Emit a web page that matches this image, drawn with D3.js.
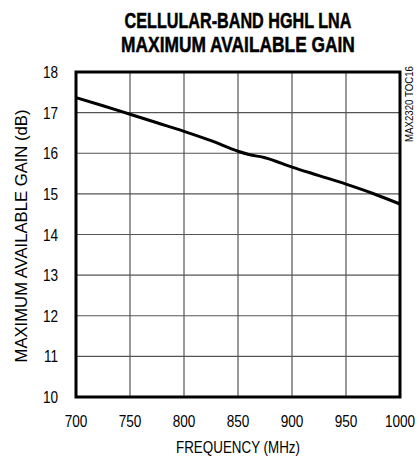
<!DOCTYPE html>
<html>
<head>
<meta charset="utf-8">
<script src="https://cdn.jsdelivr.net/npm/d3@7"></script>
<style>
  body { margin: 0; background: #fff; }
  text { font-family: "Liberation Sans", Arial, sans-serif; }
</style>
</head>
<body>
<div id="plot"></div>
<script>
var width = 419;
var height = 456;
var margin = {top: 72, right: 19, bottom: 59, left: 76};
var squeeze = 0.8; // fake a narrow font

// data
var freq = [700, 725, 750, 775, 800, 825, 850, 860, 875, 900, 925, 950, 975, 1000];
var gain = [17.37, 17.17, 16.96, 16.75, 16.54, 16.31, 16.05, 15.97, 15.89, 15.66, 15.45, 15.24, 15.01, 14.75];
var xTicks = [700, 750, 800, 850, 900, 950, 1000];
var yTicks = [10, 11, 12, 13, 14, 15, 16, 17, 18];

var svg = d3.select("#plot")
    .append("svg")
    .attr("width", width)
    .attr("height", height);

var x = d3.scaleLinear().domain([700, 1000]).range([margin.left, width - margin.right]);
var y = d3.scaleLinear().domain([10, 18]).range([height - margin.bottom, margin.top]);

// squeeze a text horizontally so it spans w pixels
function fitWidth(sel, w, place) {
    sel.each(function() {
        var len = this.getComputedTextLength();
        d3.select(this).attr("transform", place + " scale(" + (w / len) + ",1)");
    });
}

// grid
svg.append("g")
    .selectAll("line")
    .data(xTicks.slice(1, -1))
    .enter()
    .append("line")
    .attr("x1", d => x(d)).attr("x2", d => x(d))
    .attr("y1", y(10)).attr("y2", y(18))
    .attr("stroke", "#555").attr("stroke-width", 1.2);

svg.append("g")
    .selectAll("line")
    .data(yTicks.slice(1, -1))
    .enter()
    .append("line")
    .attr("x1", x(700)).attr("x2", x(1000))
    .attr("y1", d => y(d)).attr("y2", d => y(d))
    .attr("stroke", "#555").attr("stroke-width", 1.2);

// curve
var line = d3.line()
    .x((d, i) => x(freq[i]))
    .y(d => y(d))
    .curve(d3.curveMonotoneX);

svg.append("path")
    .datum(gain)
    .attr("d", line)
    .attr("fill", "none")
    .attr("stroke", "#000")
    .attr("stroke-width", 3);

// frame
svg.append("rect")
    .attr("x", x(700)).attr("y", y(18))
    .attr("width", x(1000) - x(700))
    .attr("height", y(10) - y(18))
    .attr("fill", "none")
    .attr("stroke", "#000")
    .attr("stroke-width", 3);

// tick labels
svg.append("g")
    .selectAll("text")
    .data(xTicks)
    .enter()
    .append("text")
    .text(d => d)
    .attr("transform", d => "translate(" + x(d) + ",427) scale(" + squeeze + ",1)")
    .attr("text-anchor", "middle")
    .attr("font-size", "17px");

svg.append("g")
    .selectAll("text")
    .data(yTicks)
    .enter()
    .append("text")
    .text(d => d)
    .attr("transform", d => "translate(58," + (y(d) + 6) + ") scale(" + squeeze + ",1)")
    .attr("text-anchor", "end")
    .attr("font-size", "17px");

// axis titles
svg.append("text")
    .text("FREQUENCY (MHz)")
    .attr("text-anchor", "middle")
    .attr("font-size", "16px")
    .call(fitWidth, 124, "translate(238,453)");

svg.append("text")
    .text("MAXIMUM AVAILABLE GAIN (dB)")
    .attr("text-anchor", "middle")
    .attr("font-size", "16px")
    .call(fitWidth, 253, "translate(27,236) rotate(-90)");

svg.append("text")
    .text("MAX2320 TOC16")
    .attr("text-anchor", "middle")
    .attr("font-size", "10px")
    .call(fitWidth, 76, "translate(413,104) rotate(-90)");

// chart title
var titleLines = ["CELLULAR-BAND HGHL LNA", "MAXIMUM AVAILABLE GAIN"];
var titleWidths = [227, 234];

svg.append("g")
    .selectAll("text")
    .data(titleLines)
    .enter()
    .append("text")
    .text(d => d)
    .attr("text-anchor", "middle")
    .attr("font-size", "22px")
    .attr("font-weight", "bold")
    .attr("stroke", "#000")
    .attr("stroke-width", 0.5)
    .each(function(d, i) {
        d3.select(this).call(fitWidth, titleWidths[i], "translate(238," + (28 + i * 24) + ")");
    });
</script>
</body>
</html>
